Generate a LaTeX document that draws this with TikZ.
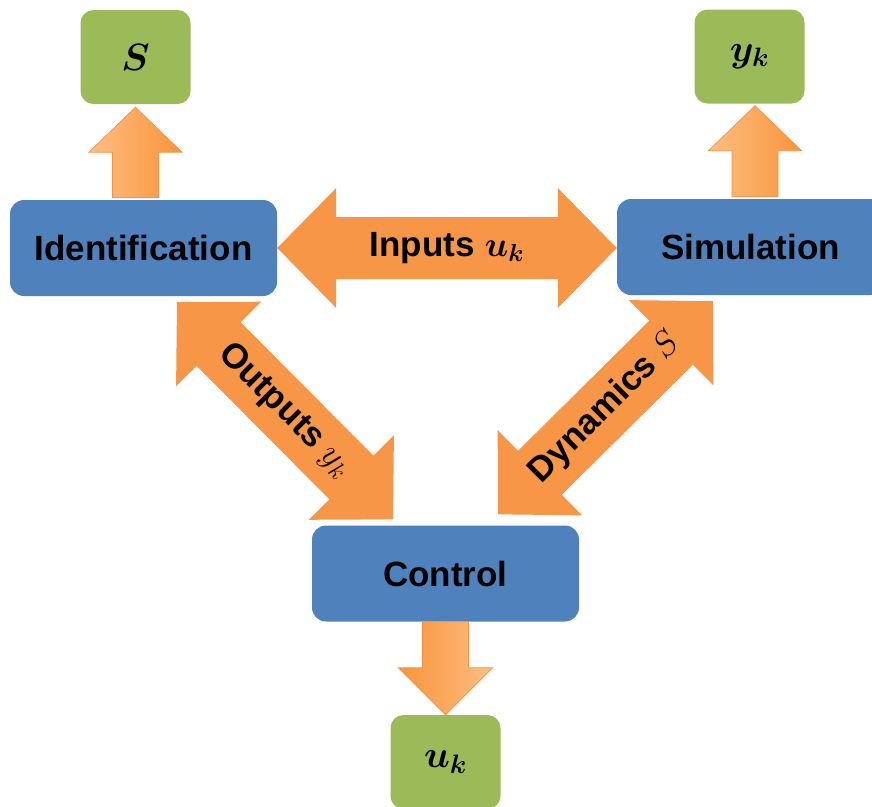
\RequirePackage{fix-cm}
\documentclass[tikz,border=0pt]{standalone}
\usepackage{amsmath,bm}
\usepackage{fontspec}
\setmainfont{Liberation Sans}
\usetikzlibrary{calc}

\definecolor{boxblue}{HTML}{4F81BD}
\definecolor{boxgreen}{HTML}{9BBB59}
\definecolor{arroworange}{HTML}{F79646}
\definecolor{arrowlight}{HTML}{FFBE82}
\definecolor{arrowdark}{HTML}{F8943A}
\definecolor{arrowedge}{HTML}{F59140}

% Block arrow from #2 (tail) to #3 (tip): #4 shaft half width,
% #5 head half width, #6 head length, #7 helper name
\newcommand\blockarrow[7]{%
  \coordinate (#7-h) at ($(#3)!#6!(#2)$);
  \path[#1] ($(#2)!#4!90:(#3)$) -- ($(#7-h)!#4!90:(#3)$) -- ($(#7-h)!#5!90:(#3)$)
    -- (#3) -- ($(#7-h)!#5!-90:(#3)$) -- ($(#7-h)!#4!-90:(#3)$)
    -- ($(#2)!#4!-90:(#3)$) -- cycle;
}
% Two-headed block arrow between #2 and #3
\newcommand\twowayarrow[7]{%
  \coordinate (#7-a) at ($(#2)!#6!(#3)$);
  \coordinate (#7-b) at ($(#3)!#6!(#2)$);
  \path[#1] (#2) -- ($(#7-a)!#5!90:(#3)$) -- ($(#7-a)!#4!90:(#3)$)
    -- ($(#7-b)!#4!90:(#3)$) -- ($(#7-b)!#5!90:(#3)$) -- (#3)
    -- ($(#7-b)!#5!-90:(#3)$) -- ($(#7-b)!#4!-90:(#3)$)
    -- ($(#7-a)!#4!-90:(#3)$) -- ($(#7-a)!#5!-90:(#3)$) -- cycle;
}

\tikzset{
  stage/.style={fill=boxblue, rounded corners=14pt, minimum width=267pt,
    minimum height=96pt, inner sep=0pt, font=\bfseries\fontsize{35}{42}\selectfont},
  result/.style={fill=boxgreen, rounded corners=13pt, minimum width=110pt,
    minimum height=94pt, inner sep=0pt, font=\fontsize{38}{44}\selectfont},
  bigarrow/.style={fill=arroworange},
  uparrow/.style={left color=arrowlight, right color=arrowdark, draw=arrowedge, line width=0.7pt},
  downarrow/.style={left color=arrowdark, right color=arrowlight, draw=arrowedge, line width=0.7pt},
  flowlabel/.style={inner sep=0pt, font=\bfseries\fontsize{35}{42}\selectfont}
}

\begin{document}
\begin{tikzpicture}[x=1pt, y=-1pt]
\useasboundingbox (0,0) rectangle (872,806);
\clip (0,0) rectangle (872,806);

% processing stages
\node[stage] (ident) at (143.5,248) {Identification};
\node[stage] (sim)   at (750.5,247) {Simulation};
\node[stage] (ctrl)  at (445.5,573.5) {Control};

% results
\node[result] (s)  at (135.5,57)   {$\bm{S}$};
\node[result] (yk) at (749.5,56.5) {$\bm{y_k}$};
\node[result] (uk) at (445.5,762)  {$\bm{u_k}$};

% exchanges between the stages
\twowayarrow{bigarrow}{ident.east}{sim.west |- ident.east}{31pt}{60pt}{59pt}{inp}
\node[flowlabel] at ($(ident.east)!0.5!(sim.west |- ident.east)$) {Inputs $\bm{u_k}$};

\coordinate (out1) at ($(ident.south)+(33.5,6)$);
\coordinate (out2) at ($(ctrl.north)+(-52.5,-6)$);
\twowayarrow{bigarrow}{out1}{out2}{31pt}{60pt}{59pt}{outp}
\node[flowlabel, rotate=-45] at ($(out1)!0.5!(out2)$) {Outputs $y_k$};

\coordinate (dyn1) at ($(sim.south)+(-37.5,6)$);
\coordinate (dyn2) at ($(ctrl.north)+(52.5,-11)$);
\twowayarrow{bigarrow}{dyn1}{dyn2}{31pt}{60pt}{59pt}{dynp}
\node[flowlabel, rotate=45] at ($(dyn1)!0.5!(dyn2)$) {Dynamics $S$};

% outputs of the stages
\coordinate (sT) at ($(s.south |- ident.north)+(0,-2)$);
\coordinate (sH) at ($(s.south)+(0,3)$);
\blockarrow{uparrow}{sT}{sH}{23pt}{46.5pt}{45pt}{sa}

\coordinate (yT) at ($(yk.south |- sim.north)+(5.5,-2)$);
\coordinate (yH) at ($(yk.south)+(5.5,2)$);
\blockarrow{uparrow}{yT}{yH}{23pt}{46.5pt}{45pt}{ya}

\blockarrow{downarrow}{ctrl.south}{uk.north}{23pt}{47pt}{47pt}{ua}
\end{tikzpicture}
\end{document}
